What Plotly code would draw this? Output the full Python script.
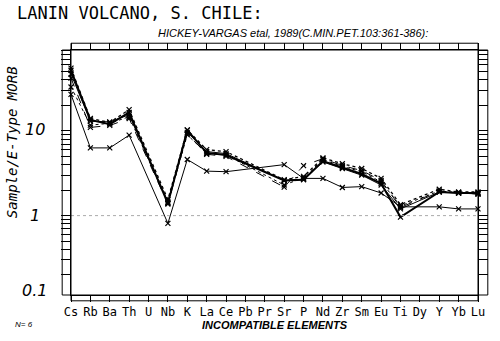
import plotly.graph_objects as go

elements = ["Cs", "Rb", "Ba", "Th", "U", "Nb", "K", "La", "Ce", "Pb", "Pr",
            "Sr", "P", "Nd", "Zr", "Sm", "Eu", "Ti", "Dy", "Y", "Yb", "Lu"]

N = None
s1 = [52, 13.5, 12.0, 16.5, N, 1.40, 10.2, 5.5, 5.2, N, N, 2.60, 2.65, 4.4, 3.7, 3.1, 2.40, 0.96, N, 1.90, 1.85, 1.85]
s2 = [55, 14.0, 12.6, 17.8, N, 1.55, 10.3, 6.0, 5.7, N, N, 2.65, 2.90, 4.8, 4.1, 3.6, 2.75, 1.35, N, 2.05, 1.90, 1.90]
s3 = [42, 11.0, 11.6, 14.0, N, 1.37, 9.3, 5.3, 5.0, N, N, 2.17, 3.90, 4.7, 3.9, 3.4, 2.60, 1.25, N, 1.95, 1.85, 1.80]
s4 = [47, 13.0, 12.8, 15.5, N, 1.45, 9.6, 5.7, 5.4, N, N, 2.60, 2.70, 4.3, 3.6, 3.0, 2.30, 1.20, N, 1.90, 1.85, 1.80]
s5 = [33, 11.7, 12.3, 14.7, N, 1.42, 9.0, 5.4, 5.2, N, N, 2.30, 2.80, 4.6, 3.8, 3.3, 2.50, 1.30, N, 1.95, 1.88, 1.85]
s6 = [27, 6.3, 6.3, 8.9, N, 0.81, 4.6, 3.35, 3.3, N, N, 4.00, 2.75, 2.75, 2.15, 2.2, 1.85, 1.27, N, 1.27, 1.20, 1.20]

series = [
    (s1, "solid", 2.0),
    (s2, "dot", 1.3),
    (s3, "dash", 1.0),
    (s4, "solid", 1.0),
    (s5, "dot", 1.0),
    (s6, "solid", 1.0),
]

xs = list(range(len(elements)))

fig = go.Figure()
for vals, dash, w in series:
    fig.add_trace(go.Scatter(
        x=xs, y=vals, mode="lines+markers", connectgaps=True,
        line=dict(color="black", width=w, dash=dash),
        marker=dict(symbol="x-thin", size=5, line=dict(color="black", width=1.2)),
        cliponaxis=False, showlegend=False,
    ))

# reference line at 1
fig.add_shape(type="line", xref="paper", yref="y", x0=0, x1=1, y0=1, y1=1,
              line=dict(color="#aaaaaa", width=1, dash="dot"))

W, H = 500, 341
L, R, T, B = 71, 486, 50, 303


def px(x):
    return (x - L) / (R - L)


def py(y):
    return (B - y) / (B - T)


# tick strips
for x0, x1, y0, y1 in [(62, 71, 50, 303), (486, 496, 50, 303), (71, 486, 43, 50), (71, 486, 303, 309)]:
    fig.add_shape(type="rect", xref="paper", yref="paper",
                  x0=px(x0), x1=px(x1), y0=py(y1), y1=py(y0),
                  line=dict(color="black", width=1), fillcolor="rgba(0,0,0,0)")

fig.update_layout(
    width=W, height=H,
    margin=dict(l=L, r=W - R, t=T, b=H - B),
    paper_bgcolor="white", plot_bgcolor="white",
    xaxis=dict(range=[0, 21], tickvals=xs, ticktext=elements,
               ticks="outside", ticklen=6, tickcolor="black", tickwidth=1,
               showline=True, linecolor="black", linewidth=1, mirror="ticks",
               showgrid=False, zeroline=False,
               tickfont=dict(family="DejaVu Sans Mono", size=12, color="black"),
               title=dict(text="<i><b>INCOMPATIBLE ELEMENTS</b></i>", standoff=2,
                          font=dict(family="Liberation Sans", size=11, color="black"))),
    yaxis=dict(type="log", range=[-0.937, 1.955],
               tickvals=[1, 10], ticktext=["", ""],
               ticks="outside", ticklen=9, tickcolor="black",
               minor=dict(ticks="outside", ticklen=9, tickcolor="black", dtick="D1", showgrid=False),
               showline=True, linecolor="black", linewidth=1, mirror="ticks",
               showgrid=False, zeroline=False),
)

ann = []
for val, y in [("10", 132), ("1", 221), ("0.1", 298)]:
    ann.append(dict(text="<i>" + val + "</i>", x=px(34), y=py(y), xref="paper", yref="paper",
                    showarrow=False, xanchor="center", yanchor="middle",
                    font=dict(family="DejaVu Sans", size=16, color="black")))
ann.append(dict(text="<i>Sample/E-Type MORB</i>", x=px(11), y=py(145), xref="paper", yref="paper",
                showarrow=False, textangle=-90, xanchor="center", yanchor="middle",
                font=dict(family="DejaVu Sans Mono", size=14, color="black")))
ann.append(dict(text="LANIN VOLCANO, S. CHILE:", x=px(14), y=py(12), xref="paper", yref="paper",
                showarrow=False, xanchor="left", yanchor="middle",
                font=dict(family="DejaVu Sans Mono", size=17, color="black")))
ann.append(dict(text="<i>HICKEY-VARGAS etal, 1989(C.MIN.PET.103:361-386):</i>", x=px(297), y=py(32),
                xref="paper", yref="paper", showarrow=False, xanchor="center", yanchor="middle",
                font=dict(family="Liberation Sans", size=11, color="black")))
ann.append(dict(text="<i>N= 6</i>", x=px(12), y=py(333), xref="paper", yref="paper",
                showarrow=False, xanchor="left", yanchor="middle",
                font=dict(family="Liberation Sans", size=8, color="black")))
fig.update_layout(annotations=ann)

fig.write_html("out.html")
